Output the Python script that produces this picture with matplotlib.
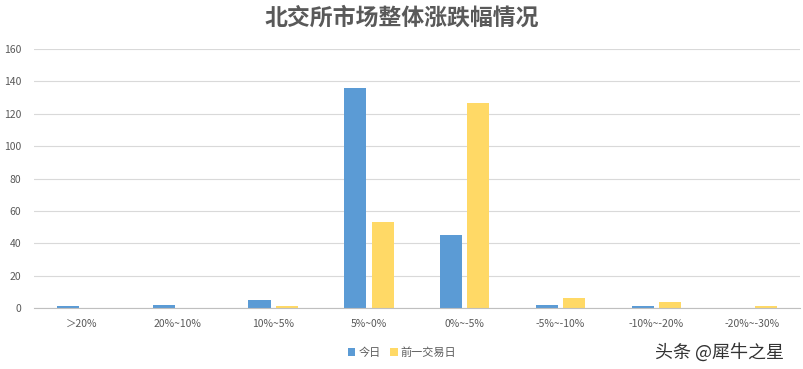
import matplotlib.pyplot as plt
import numpy as np

plt.rcParams['font.family'] = ['Noto Sans CJK SC', 'DejaVu Sans']

categories = ['＞20%', '20%~10%', '10%~5%', '5%~0%', '0%~-5%', '-5%~-10%', '-10%~-20%', '-20%~-30%']
today = [1, 2, 5, 136, 45, 2, 1, 0]
prev_day = [0, 0, 1, 53, 127, 6, 4, 1]

fig = plt.figure(figsize=(8.04, 3.69), dpi=100)
ax = fig.add_axes([0.042, 0.165, 0.953, 0.702])

x = np.arange(len(categories))
w = 0.23
ax.bar(x - w / 2 - 0.028, today, w, color='#5B9BD5', label='今日')
ax.bar(x + w / 2 + 0.028, prev_day, w, color='#FFD966', label='前一交易日')

ax.set_xlim(-0.5, len(categories) - 0.5)
ax.set_ylim(0, 160)
ax.set_yticks(range(0, 161, 20))
ax.set_xticks(x)
ax.set_xticklabels(categories)
ax.tick_params(axis='both', length=0, labelsize=7.5, labelcolor='#595959')
ax.tick_params(axis='x', pad=8)
ax.tick_params(axis='y', pad=9)
ax.grid(axis='y', color='#D9D9D9', linewidth=0.8)
ax.set_axisbelow(True)
for s in ['top', 'right', 'left']:
    ax.spines[s].set_visible(False)
ax.spines['bottom'].set_color('#BFBFBF')

fig.text(0.5, 0.95, '北交所市场整体涨跌幅情况', ha='center', va='center',
         fontsize=16.5, color='#595959', fontweight='bold')
fig.legend(loc='center', bbox_to_anchor=(0.5, 0.045), ncol=2, frameon=False,
           fontsize=8, handlelength=0.7, handleheight=0.7, columnspacing=0.8,
           handletextpad=0.3, labelcolor='#595959')
fig.text(0.975, 0.045, '头条 @犀牛之星', ha='right', va='center', fontsize=13,
         color='#333333')

fig.savefig('out.png', dpi=100, facecolor='white')
